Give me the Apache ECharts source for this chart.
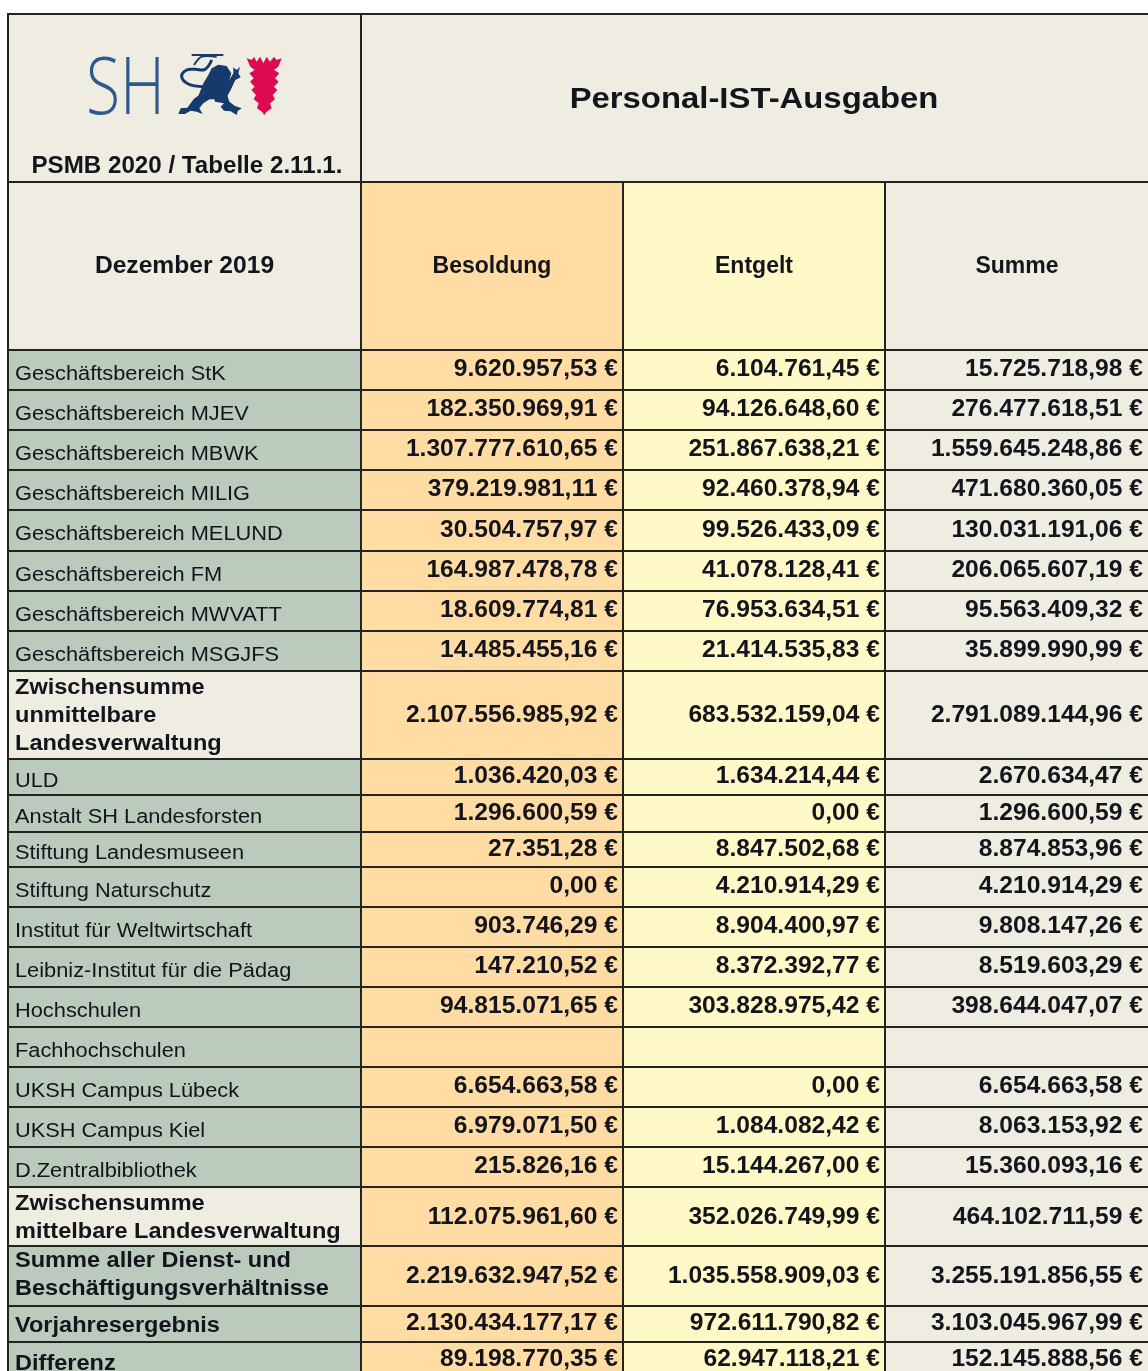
<!DOCTYPE html>
<html>
<head>
<meta charset="utf-8">
<title>Personal-IST-Ausgaben</title>
<script src="https://cdn.jsdelivr.net/npm/echarts@6/dist/echarts.min.js"></script>
<style>
  html, body { margin: 0; padding: 0; background: #fff; }
  #main { width: 1148px; height: 1371px; }
  #main canvas { filter: blur(0.4px); }
</style>
</head>
<body>
<div id="main"></div>
<script>
// Tabellendaten
const tableCode = 'PSMB 2020 / Tabelle 2.11.1.';
const tableTitle = 'Personal-IST-Ausgaben';
const periodLabel = 'Dezember 2019';
const columnNames = ['Besoldung', 'Entgelt', 'Summe'];
const rowNames = [
  'Geschäftsbereich StK', 'Geschäftsbereich MJEV', 'Geschäftsbereich MBWK', 'Geschäftsbereich MILIG',
  'Geschäftsbereich MELUND', 'Geschäftsbereich FM', 'Geschäftsbereich MWVATT', 'Geschäftsbereich MSGJFS',
  'Zwischensumme\nunmittelbare\nLandesverwaltung',
  'ULD', 'Anstalt SH Landesforsten', 'Stiftung Landesmuseen', 'Stiftung Naturschutz',
  'Institut für Weltwirtschaft', 'Leibniz-Institut für die Pädag', 'Hochschulen', 'Fachhochschulen',
  'UKSH Campus Lübeck', 'UKSH Campus Kiel', 'D.Zentralbibliothek',
  'Zwischensumme\nmittelbare Landesverwaltung',
  'Summe aller Dienst- und\nBeschäftigungsverhältnisse',
  'Vorjahresergebnis', 'Differenz'
];
const besoldung = [
  9620957.53, 182350969.91, 1307777610.65, 379219981.11, 30504757.97, 164987478.78, 18609774.81, 14485455.16,
  2107556985.92,
  1036420.03, 1296600.59, 27351.28, 0, 903746.29, 147210.52, 94815071.65, null, 6654663.58, 6979071.50, 215826.16,
  112075961.60, 2219632947.52, 2130434177.17, 89198770.35
];
const entgelt = [
  6104761.45, 94126648.60, 251867638.21, 92460378.94, 99526433.09, 41078128.41, 76953634.51, 21414535.83,
  683532159.04,
  1634214.44, 0, 8847502.68, 4210914.29, 8904400.97, 8372392.77, 303828975.42, null, 0, 1084082.42, 15144267.00,
  352026749.99, 1035558909.03, 972611790.82, 62947118.21
];
const summe = [
  15725718.98, 276477618.51, 1559645248.86, 471680360.05, 130031191.06, 206065607.19, 95563409.32, 35899990.99,
  2791089144.96,
  2670634.47, 1296600.59, 8874853.96, 4210914.29, 9808147.26, 8519603.29, 398644047.07, null, 6654663.58, 8063153.92, 15360093.16,
  464102711.59, 3255191856.55, 3103045967.99, 152145888.56
];

// Layout: Kanten der Spalten und Zeilen in Pixeln
const colEdges = [8, 361, 623, 885, 1160];
const rowEdges = [14, 182, 350, 390, 430, 470, 510, 551, 591, 631, 671, 759, 795, 832, 867, 907, 947, 987, 1027, 1067, 1107, 1147, 1187, 1246, 1306, 1342, 1385];
const boldRows = [8, 20, 21, 22, 23];
const plainBeigeRows = [8, 20];

const BEIGE = '#efece1';
const ORANGE = '#fedca4';
const YELLOW = '#fef9c6';
const SAGE = '#bacbbe';
const INK = '#14141c';

// 1234567,8 -> 1.234.567,80 €
function euro(v) {
  if (v === null) return '';
  const parts = v.toFixed(2).split('.');
  return parts[0].replace(/\B(?=(\d{3})+$)/g, '.') + ',' + parts[1] + ' \u20ac';
}

const cells = [];
function addCell(c0, c1, r0, r1, fill, text, opts) {
  cells.push(Object.assign({ x0: colEdges[c0], x1: colEdges[c1], y0: rowEdges[r0], y1: rowEdges[r1], fill: fill, text: text }, opts));
}
const headFont = 'bold 23px "Liberation Sans"';
addCell(0, 1, 0, 1, BEIGE, tableCode, { textX: 187, textY: 167, align: 'center', font: headFont, scale: 1.05 });
addCell(1, 4, 0, 1, BEIGE, tableTitle, { textX: 754, textY: 100, align: 'center', font: 'bold 30px "Liberation Sans"', scale: 1.095 });
addCell(0, 1, 1, 2, BEIGE, periodLabel, { align: 'center', font: headFont, dy: 1, scale: 1.07 });
addCell(1, 2, 1, 2, ORANGE, columnNames[0], { align: 'center', font: headFont, dy: 1 });
addCell(2, 3, 1, 2, YELLOW, columnNames[1], { align: 'center', font: headFont, dy: 1 });
addCell(3, 4, 1, 2, BEIGE, columnNames[2], { textX: 1017, textY: 267, align: 'center', font: headFont });

const valueDy = { 8: 1, 20: 1, 21: 1, 22: 0, 23: -4 };
const labelDy = { 8: 1, 20: 1, 21: -1, 22: 2, 23: 0 };
rowNames.forEach(function (name, i) {
  const r = i + 2;
  const bold = boldRows.indexOf(i) >= 0;
  const labelFill = plainBeigeRows.indexOf(i) >= 0 ? BEIGE : SAGE;
  addCell(0, 1, r, r + 1, labelFill, name, {
    align: 'left', textX: 15,
    font: bold ? 'bold 22px "Liberation Sans"' : '20px "Liberation Sans"',
    lineHeight: 28,
    dy: bold ? labelDy[i] : 4,
    scale: bold ? 1.07 : 1.09
  });
  const vDy = valueDy[i] || 0;
  const valueOpts = { align: 'right', font: 'bold 23px "Liberation Sans"', dy: vDy, scale: 1.07 };
  addCell(1, 2, r, r + 1, ORANGE, euro(besoldung[i]), Object.assign({ textX: 618 }, valueOpts));
  addCell(2, 3, r, r + 1, YELLOW, euro(entgelt[i]), Object.assign({ textX: 880 }, valueOpts));
  addCell(3, 4, r, r + 1, BEIGE, euro(summe[i]), Object.assign({ textX: 1143 }, valueOpts));
});

function renderCell(params, api) {
  const c = cells[params.dataIndex];
  const tl = api.coord([api.value(0), api.value(1)]);
  const br = api.coord([api.value(2), api.value(3)]);
  const tx = c.textX !== undefined ? c.textX : (tl[0] + br[0]) / 2;
  const ty = c.textY !== undefined ? c.textY : (tl[1] + br[1]) / 2 + (c.dy || 0);
  return {
    type: 'group',
    children: [
      {
        type: 'rect',
        shape: { x: tl[0], y: tl[1], width: br[0] - tl[0], height: br[1] - tl[1] },
        style: { fill: c.fill, stroke: '#23231f', lineWidth: 2 }
      },
      {
        type: 'text',
        z2: 10,
        x: tx,
        y: ty,
        scaleX: c.scale || 1,
        style: {
          text: c.text, x: 0, y: 0, align: c.align, verticalAlign: 'middle',
          font: c.font, fill: INK, lineHeight: c.lineHeight
        }
      }
    ]
  };
}

// Logo: Wappenteile, Koordinaten im Logo-Ausschnitt (dreifach)
function logoPts(list) {
  return list.map(function (p) { return [70 + p[0] / 3, 40 + p[1] / 3]; });
}
const leafPts = [[530,55],[545,60],[552,50],[560,65],[570,50],[580,70],[590,50],[600,65],[612,50],[620,60],[635,55],[625,80],[612,90],[628,100],[615,115],[626,125],[612,140],[622,150],[608,165],[615,178],[600,190],[605,205],[590,215],[583,225],[576,215],[561,205],[566,190],[551,178],[558,165],[544,150],[554,140],[540,125],[551,115],[538,100],[554,90],[541,80]];
const lionBody = [[425,85],[445,74],[470,78],[484,100],[478,120],[490,100],[490,82],[500,90],[510,80],[505,100],[512,112],[496,120],[482,150],[472,168],[440,178],[405,178],[385,168],[400,130],[415,105]];
const lionHindLeft = [[395,160],[430,170],[400,190],[388,205],[398,222],[380,215],[362,212],[345,222],[325,222],[332,205],[352,203],[372,176]];
const lionHindRight = [[430,165],[470,160],[478,185],[495,198],[515,205],[503,213],[500,225],[482,214],[462,212],[452,200],[462,190],[435,185]];
const lionTail = [[400,140],[355,132],[335,110],[350,90],[375,88],[405,88],[425,60]];
const lionCrest = [[365,45],[460,45]];
const lionCrestDrop = [[372,75],[395,50],[440,50]];

const logoGraphics = [
  {
    type: 'text', x: 86, y: 91, scaleX: 0.78,
    style: { text: 'SH', font: '300 80px "Open Sans"', fill: '#2c5a8c', align: 'left', verticalAlign: 'middle' }
  },
  { type: 'polygon', shape: { points: logoPts(lionBody) }, style: { fill: '#163a6b' } },
  { type: 'polygon', shape: { points: logoPts(lionHindLeft) }, style: { fill: '#163a6b' } },
  { type: 'polygon', shape: { points: logoPts(lionHindRight) }, style: { fill: '#163a6b' } },
  { type: 'polyline', shape: { points: logoPts(lionTail), smooth: 0.4 }, style: { stroke: '#163a6b', lineWidth: 3, fill: 'none' } },
  { type: 'polyline', shape: { points: logoPts(lionCrest) }, style: { stroke: '#163a6b', lineWidth: 2, fill: 'none' } },
  { type: 'polyline', shape: { points: logoPts(lionCrestDrop), smooth: 0.3 }, style: { stroke: '#163a6b', lineWidth: 2, fill: 'none' } },
  { type: 'polygon', shape: { points: logoPts(leafPts) }, style: { fill: '#dc0a50' } }
];

const chart = echarts.init(document.getElementById('main'), null, { renderer: 'canvas' });
chart.setOption({
  animation: false,
  backgroundColor: '#ffffff',
  grid: { left: 0, right: 0, top: 0, bottom: 0 },
  xAxis: { type: 'value', min: 0, max: 1148, show: false },
  yAxis: { type: 'value', min: 0, max: 1371, inverse: true, show: false },
  tooltip: { show: false },
  graphic: logoGraphics.map(function (g) { return Object.assign({ z: 100 }, g); }),
  series: [
    {
      type: 'custom',
      coordinateSystem: 'cartesian2d',
      clip: true,
      renderItem: renderCell,
      encode: { x: [0, 2], y: [1, 3] },
      data: cells.map(function (c) { return [c.x0, c.y0, c.x1, c.y1]; })
    }
  ]
});
</script>
</body>
</html>
